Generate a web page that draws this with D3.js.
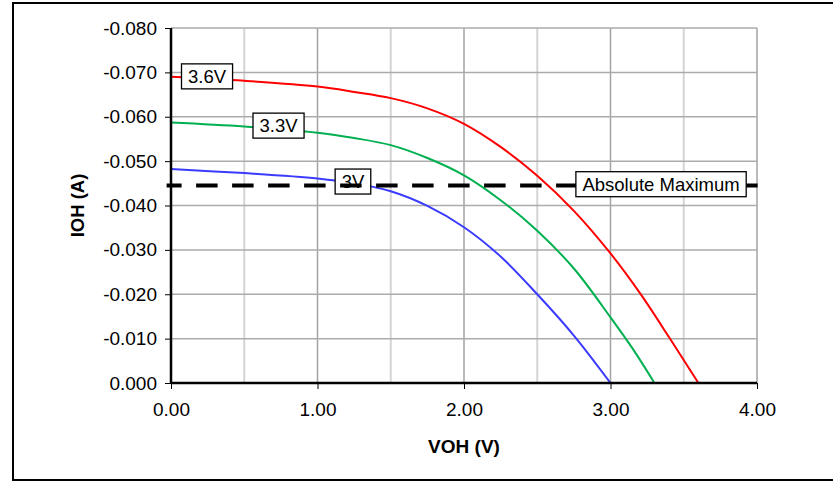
<!DOCTYPE html>
<html>
<head>
<meta charset="utf-8">
<script src="https://cdn.jsdelivr.net/npm/d3@7"></script>
<style>
  body { margin: 0; background: #fff; }
  svg text { font-family: Arial, "Liberation Sans", sans-serif; fill: #000; }
</style>
</head>
<body>
<div id="chart"></div>
<script>
// VOH (V) vs IOH (A) for each supply voltage
const vdd36X = [0, 0.5, 1, 1.25, 1.5, 1.75, 2, 2.25, 2.5, 2.75, 3.0, 3.2, 3.4, 3.6];
const vdd36Y = [-0.0690, -0.0681, -0.0668, -0.0656, -0.0642, -0.0619, -0.0584, -0.0532, -0.0467, -0.0388, -0.0292, -0.0203, -0.0103, 0];

const vdd33X = [0, 0.5, 1, 1.25, 1.5, 1.75, 2, 2.25, 2.5, 2.75, 3.0, 3.15, 3.3];
const vdd33Y = [-0.0587, -0.0578, -0.0564, -0.0552, -0.0536, -0.0507, -0.0468, -0.0412, -0.0343, -0.0258, -0.0148, -0.0078, 0];

const vdd30X = [0, 0.5, 1, 1.25, 1.5, 1.75, 2, 2.25, 2.5, 2.75, 3.0];
const vdd30Y = [-0.0482, -0.0473, -0.0461, -0.0450, -0.0432, -0.0399, -0.0351, -0.0285, -0.0200, -0.0107, 0];

const absMaxX = [-0.03, 4.02];
const absMaxY = -0.0445;

const xTicks = [0, 1, 2, 3, 4];
const xMinor = [0.5, 1.5, 2.5, 3.5];
const yTicks = [0, -0.01, -0.02, -0.03, -0.04, -0.05, -0.06, -0.07, -0.08];

// label text and anchor (data units)
const labelText = ['3.6V', '3.3V', '3V', 'Absolute Maximum'];
const labelX = [0.246, 0.734, 1.242, 3.345];
const labelY = [-0.0691, -0.0580, -0.0454, -0.0448];

const width = 833;
const height = 482;
const margin = { top: 28, right: 76, bottom: 99, left: 171 };

const svg = d3.select('#chart')
  .append('svg')
  .attr('width', width)
  .attr('height', height);

// outer frame (right side runs off the page)
svg.append('rect')
  .attr('x', 13).attr('y', 3)
  .attr('width', 840).attr('height', 477)
  .attr('fill', 'none')
  .attr('stroke', '#000')
  .attr('stroke-width', 2);

const x = d3.scaleLinear().domain([0, 4]).range([margin.left, width - margin.right]);
const y = d3.scaleLinear().domain([0, -0.08]).range([height - margin.bottom, margin.top]);

// grid
const grid = svg.append('g');
grid.selectAll('.minor')
  .data(xMinor)
  .enter().append('line')
  .attr('x1', d => x(d)).attr('x2', d => x(d))
  .attr('y1', y(0)).attr('y2', y(-0.08))
  .attr('stroke', '#d4d4d4').attr('stroke-width', 2);
grid.selectAll('.major')
  .data(xTicks.slice(1))
  .enter().append('line')
  .attr('x1', d => x(d)).attr('x2', d => x(d))
  .attr('y1', y(0)).attr('y2', y(-0.08))
  .attr('stroke', '#a3a3a3').attr('stroke-width', 1.5);
grid.selectAll('.hgrid')
  .data(yTicks.slice(1))
  .enter().append('line')
  .attr('x1', x(0)).attr('x2', x(4))
  .attr('y1', d => y(d)).attr('y2', d => y(d))
  .attr('stroke', '#ababab').attr('stroke-width', 1.5);

const line = d3.line()
  .x(d => x(d[0]))
  .y(d => y(d[1]))
  .curve(d3.curveCatmullRom.alpha(0.5));

const series = [
  { xs: vdd36X, ys: vdd36Y, color: '#ff0000' },
  { xs: vdd33X, ys: vdd33Y, color: '#00b050' },
  { xs: vdd30X, ys: vdd30Y, color: '#3b3bff' },
];

svg.append('g').selectAll('path')
  .data(series)
  .enter().append('path')
  .attr('d', s => line(s.xs.map((v, i) => [v, s.ys[i]])))
  .attr('fill', 'none')
  .attr('stroke', s => s.color)
  .attr('stroke-width', 2);

function drawLabel(i) {
  const g = svg.append('g');
  const t = g.append('text')
    .attr('x', x(labelX[i]))
    .attr('y', y(labelY[i]))
    .attr('text-anchor', 'middle')
    .attr('dominant-baseline', 'central')
    .attr('font-size', 18.5)
    .text(labelText[i]);
  const w = t.node().getComputedTextLength() + 13;
  g.insert('rect', 'text')
    .attr('x', x(labelX[i]) - w / 2)
    .attr('y', y(labelY[i]) - 12.5)
    .attr('width', w)
    .attr('height', 25)
    .attr('fill', '#fff')
    .attr('stroke', '#000')
    .attr('stroke-width', 1.3);
}

// 3V label sits under the dashed line
drawLabel(2);

svg.append('line')
  .attr('x1', x(absMaxX[0])).attr('x2', x(absMaxX[1]))
  .attr('y1', y(absMaxY)).attr('y2', y(absMaxY))
  .attr('stroke', '#000')
  .attr('stroke-width', 4)
  .attr('stroke-dasharray', '21.5,14.5')
  .attr('stroke-dashoffset', 6.5);

drawLabel(3);
drawLabel(0);
drawLabel(1);

// axes
const xAxis = svg.append('g')
  .attr('transform', `translate(0,${y(0)})`)
  .call(d3.axisBottom(x).tickValues(xTicks).tickSize(6).tickPadding(14).tickFormat(d => d.toFixed(2)));
const yAxis = svg.append('g')
  .attr('transform', `translate(${x(0)},0)`)
  .call(d3.axisLeft(y).tickValues(yTicks).tickSize(6).tickPadding(8).tickFormat(d => d.toFixed(3)));

[xAxis, yAxis].forEach((ax) => {
  ax.select('.domain').attr('stroke', '#000').attr('stroke-width', 2.5);
  ax.selectAll('.tick line').attr('stroke', '#000');
  ax.selectAll('.tick text')
    .attr('font-size', 19)
    .attr('font-family', 'Arial, "Liberation Sans", sans-serif')
    .attr('fill', '#000');
});
xAxis.select('.domain').attr('d', `M${x(0)},0H${x(4)}`);
yAxis.select('.domain').attr('d', `M0,${y(0)}V${y(-0.08)}`);

svg.append('text')
  .attr('x', x(2))
  .attr('y', 453)
  .attr('text-anchor', 'middle')
  .attr('font-size', 19)
  .attr('font-weight', 'bold')
  .text('VOH (V)');

svg.append('text')
  .attr('transform', `translate(84,${(y(0) + y(-0.08)) / 2}) rotate(-90)`)
  .attr('text-anchor', 'middle')
  .attr('font-size', 18.5)
  .attr('font-weight', 'bold')
  .text('IOH (A)');
</script>
</body>
</html>
